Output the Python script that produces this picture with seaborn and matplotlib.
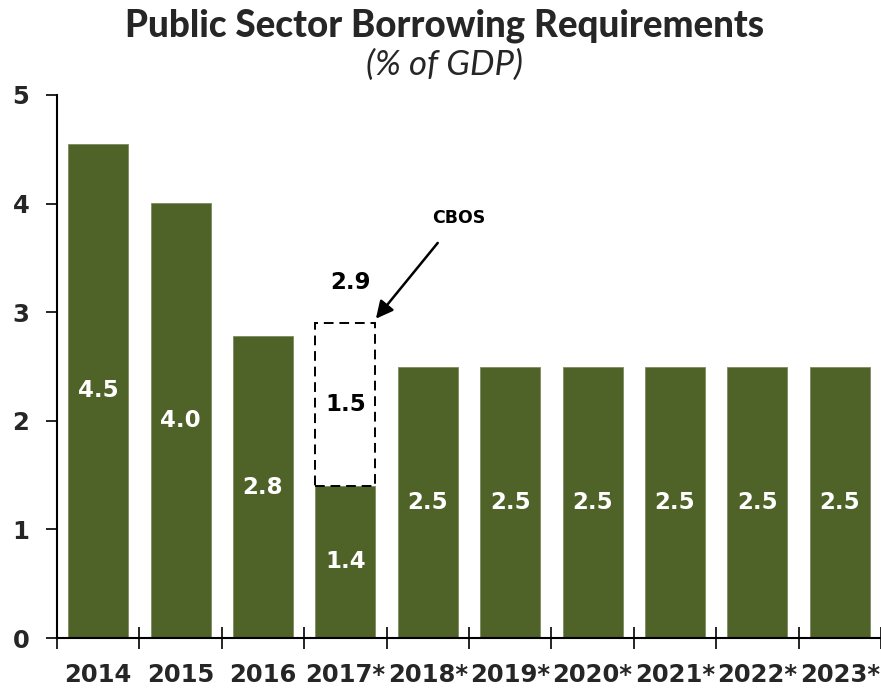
import matplotlib
matplotlib.use("Agg")
import matplotlib.pyplot as plt
import seaborn as sns
import pandas as pd

years = ['2014', '2015', '2016', '2017*', '2018*', '2019*', '2020*', '2021*', '2022*', '2023*']
values = [4.55, 4.01, 2.78, 1.40, 2.5, 2.5, 2.5, 2.5, 2.5, 2.5]
value_labels = ['4.5', '4.0', '2.8', '1.4', '2.5', '2.5', '2.5', '2.5', '2.5', '2.5']
cbos_year = '2017*'
cbos_extra = 1.5
cbos_total_label = '2.9'
cbos_extra_label = '1.5'
yticks = [0, 1, 2, 3, 4, 5]

GREEN = '#4F6228'

sns.set_theme(style='white')
plt.rcParams['font.family'] = ['DejaVu Sans']

df = pd.DataFrame({'year': years, 'value': values})

fig = plt.figure(figsize=(8.81, 6.88), dpi=100)
ax = fig.add_axes([57 / 881, 50 / 688, 824 / 881, (638 - 95) / 688])

sns.barplot(data=df, x='year', y='value', color=GREEN, saturation=1, width=0.73,
            edgecolor='#7d8c5e', linewidth=0.6, ax=ax)

idx = years.index(cbos_year)
base = values[idx]
ax.bar(idx, cbos_extra, bottom=base, width=0.73, facecolor='none',
       edgecolor='black', linestyle=(0, (5, 3)), linewidth=1.4)

for i, (v, lab) in enumerate(zip(values, value_labels)):
    ax.text(i, v / 2, lab, ha='center', va='center', color='white',
            fontsize=16.5, fontweight='bold')

ax.text(idx, base + cbos_extra / 2, cbos_extra_label, ha='center', va='center',
        color='black', fontsize=16.5, fontweight='bold')
ax.text(idx + 0.06, base + cbos_extra + 0.37, cbos_total_label, ha='center', va='center',
        color='black', fontsize=16.5, fontweight='bold')

ax.annotate('CBOS', xy=(idx + 0.37, base + cbos_extra + 0.04),
            xytext=(idx + 1.37, 3.87), ha='center', va='center',
            fontsize=12.5, fontweight='bold', color='black',
            arrowprops=dict(arrowstyle='-|>', color='black', lw=1.8,
                            mutation_scale=26, shrinkA=12, shrinkB=0))

ax.set_xlim(-0.5, len(years) - 0.5)
ax.set_ylim(0, 5)
ax.set_yticks(yticks)
ax.set_yticklabels([str(t) for t in yticks], fontsize=17.5, fontweight='bold')
ax.set_xlabel('')
ax.set_ylabel('')

# x tick labels at centers, tick marks at boundaries
ax.set_xticks(range(len(years)))
ax.set_xticklabels(years, fontsize=17.5, fontweight='bold')
ax.tick_params(axis='x', which='major', length=0, pad=18)
ax.set_xticks([i - 0.5 for i in range(len(years) + 1)], minor=True)
ax.tick_params(axis='x', which='minor', bottom=True, direction='inout', length=16,
               width=1.2, color='black')
ax.tick_params(axis='y', direction='out', length=8, width=1.2, color='black', left=True, pad=12)

for s in ['top', 'right']:
    ax.spines[s].set_visible(False)
for s in ['left', 'bottom']:
    ax.spines[s].set_color('black')
    ax.spines[s].set_linewidth(1.5)
ax.grid(False)

fig.text(0.505, 0.962, 'Public Sector Borrowing Requirements', ha='center', va='center',
         fontsize=26.5, fontweight='black', family=['Lato', 'DejaVu Sans'])
fig.text(0.505, 0.906, '(% of GDP)', ha='center', va='center',
         fontsize=25, style='italic', fontweight='normal', family=['Lato', 'DejaVu Sans'])

fig.savefig('out.png', dpi=100)
